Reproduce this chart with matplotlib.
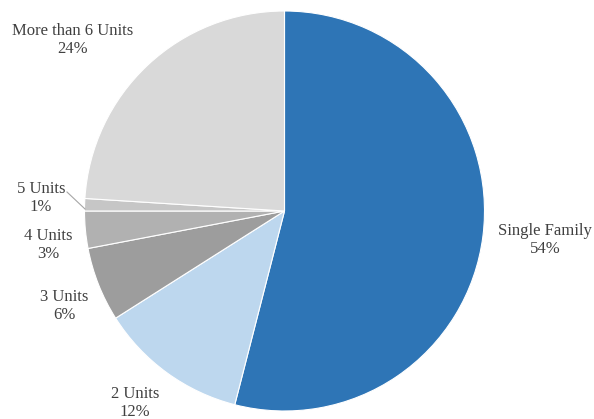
import matplotlib
matplotlib.use("Agg")
import matplotlib.pyplot as plt

categories = ["Single Family", "2 Units", "3 Units", "4 Units", "5 Units", "More than 6 Units"]
shares = [54, 12, 6, 3, 1, 24]
colors = ["#2E75B6", "#BDD7EE", "#9D9D9D", "#B1B1B1", "#C6C6C6", "#D9D9D9"]

# label anchor points in figure pixels (x, y from top-left)
label_px = [(545, 240), (135, 403), (64, 306), (48, 245), (41, 198), (73, 40)]

W, H = 594, 419
CX, CY, R = 284.5, 211.0, 200.0

def to_data(px, py):
    return (px - CX) / R, (CY - py) / R

plt.rcParams["font.family"] = ["Liberation Serif", "DejaVu Serif"]

fig = plt.figure(figsize=(W / 100, H / 100), dpi=100)
ax = fig.add_axes([0, 0, 1, 1])
ax.pie(shares, colors=colors, startangle=90, counterclock=False, radius=1.0,
       wedgeprops=dict(edgecolor="white", linewidth=0.8))

x0, y0 = to_data(0, H)
x1, y1 = to_data(W, 0)
ax.set_xlim(x0, x1)
ax.set_ylim(y0, y1)
ax.set_aspect("auto")
ax.axis("off")

for name, val, (px, py) in zip(categories, shares, label_px):
    x, y = to_data(px, py)
    ax.text(x, y, f"{name}\n{val}%", ha="center", va="center", multialignment="center",
            fontsize=12, color="#404040", linespacing=1.15)

# leader line for the small slice
lx0, ly0 = to_data(67, 192)
lx1, ly1 = to_data(85, 209)
ax.plot([lx0, lx1], [ly0, ly1], color="#A6A6A6", linewidth=0.8)

fig.savefig("out.png", dpi=100)
